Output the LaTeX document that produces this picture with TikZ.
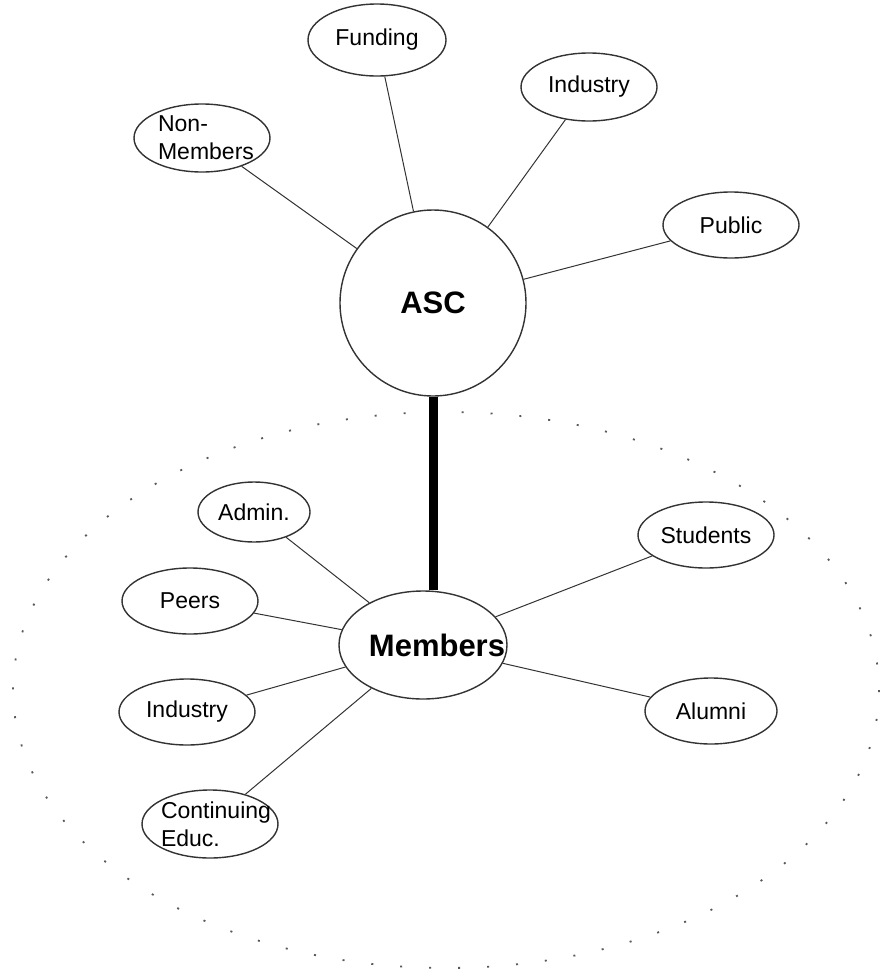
\documentclass[tikz,border=0pt]{standalone}
\usepackage{fontspec}
\setmainfont{Liberation Sans}
\usetikzlibrary{shapes.geometric}
\tikzset{
  x=1pt,y=-1pt,
  sat/.style={ellipse,draw=black!80,line width=1.4pt,inner sep=0pt,minimum width=136pt,minimum height=68pt,font=\fontsize{23}{27}\selectfont},
  link/.style={draw=black!80,line width=1pt},
  hub/.style={draw=black!80,line width=1.4pt,inner sep=0pt,font=\bfseries\fontsize{31}{34}\selectfont},
}
\begin{document}
\begin{tikzpicture}
\useasboundingbox (0,0) rectangle (881,970);
% dotted boundary
\draw[black!65,line width=1.8pt,dash pattern=on 2pt off 27pt] (446,690) ellipse [x radius=433, y radius=278];
% hubs
\node[hub,circle,minimum size=186pt] (asc) at (433,303) {ASC};
\node[hub,ellipse,minimum width=168pt,minimum height=108pt,label={[font=\bfseries\fontsize{31}{34}\selectfont,xshift=14pt]center:Members}] (mem) at (423,645) {};
% top satellites
\node[sat,minimum width=138pt,minimum height=72pt] (fund) at (377,40) {Funding};
\node[sat] (ind1) at (589,87) {Industry};
\node[sat,label={[font=\fontsize{23}{28}\selectfont,align=left,xshift=4pt]center:{Non-\\Members}}] (non) at (202,138) {};
\node[sat,minimum height=66pt] (pub) at (731,225) {Public};
% bottom satellites
\node[sat,minimum width=112pt,minimum height=60pt] (adm) at (254,512) {Admin.};
\node[sat,minimum height=66pt] (peer) at (190,601) {Peers};
\node[sat,minimum height=66pt] (ind2) at (187,712) {Industry};
\node[sat,label={[font=\fontsize{23}{28}\selectfont,align=left,xshift=6pt]center:{Continuing\\Educ.}}] (cont) at (210,824) {};
\node[sat,minimum height=66pt] (stu) at (706,535) {Students};
\node[sat,minimum width=132pt,minimum height=66pt] (alu) at (711,711) {Alumni};
% links
\draw[link] (asc) -- (fund);
\draw[link] (asc) -- (ind1);
\draw[link] (asc) -- (non);
\draw[link] (asc) -- (pub);
\draw[link] (mem) -- (adm);
\draw[link] (mem) -- (peer);
\draw[link] (mem) -- (ind2);
\draw[link] (mem) -- (cont);
\draw[link] (mem) -- (stu);
\draw[link] (mem) -- (alu);
\draw[line width=9pt] (asc.south) -- (asc.south |- mem.north);
\end{tikzpicture}
\end{document}
